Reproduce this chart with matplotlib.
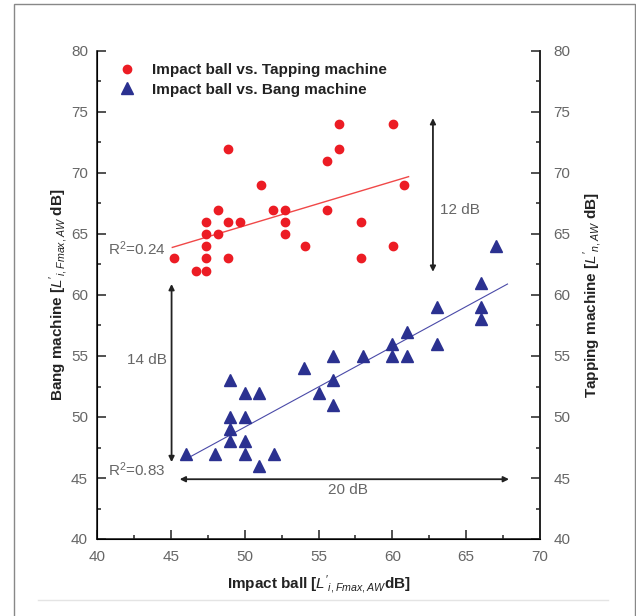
import matplotlib
matplotlib.use("Agg")
import matplotlib.pyplot as plt
from matplotlib.patches import Rectangle
from matplotlib.lines import Line2D
from matplotlib.ticker import MultipleLocator

plt.rcParams['font.family'] = ['Liberation Sans', 'DejaVu Sans']
plt.rcParams['mathtext.fontset'] = 'custom'
plt.rcParams['mathtext.rm'] = 'Liberation Sans'
plt.rcParams['mathtext.it'] = 'Liberation Sans:italic'
plt.rcParams['mathtext.bf'] = 'Liberation Sans:bold'

# impact ball vs tapping machine (red circles)
red_x = [45.2, 46.7, 47.4, 47.4, 47.4, 47.4, 47.4, 48.2, 48.2, 48.9, 48.9, 48.9, 49.7, 51.1,
         51.9, 52.7, 52.7, 52.7, 54.1, 55.6, 55.6, 56.4, 56.4, 57.9, 57.9, 60.05, 60.05, 60.8]
red_y = [63, 62, 62, 63, 64, 65, 66, 65, 67, 72, 66, 63, 66, 69,
         67, 67, 66, 65, 64, 71, 67, 74, 72, 66, 63, 74, 64, 69]

# impact ball vs bang machine (blue triangles)
blue_x = [46, 48, 49, 49, 49, 49, 50, 50, 50, 50, 51, 51, 52, 54, 55,
          56, 56, 56, 58, 60, 60, 61, 61, 63, 63, 66, 66, 66, 67]
blue_y = [47, 47, 48, 49, 50, 53, 52, 50, 48, 47, 52, 46, 47, 54, 52,
          55, 53, 51, 55, 56, 55, 57, 55, 59, 56, 61, 59, 58, 64]

# regression lines
red_fit_x = [45.1, 61.1]
red_fit_y = [63.9, 69.7]
blue_fit_x = [46.1, 67.8]
blue_fit_y = [46.6, 60.9]

red = '#ec1c24'
blue = '#2b3190'
dark = '#222222'
grey = '#666666'

fig = plt.figure(figsize=(6.36, 6.16), dpi=100)
ax = fig.add_axes([97/636, 1-539/616, 443/636, 488/616])

ax.plot(red_fit_x, red_fit_y, color='#f04848', lw=1.0, zorder=2)
ax.plot(blue_fit_x, blue_fit_y, color='#4a4aa8', lw=0.8, zorder=2)
ax.plot(red_x, red_y, 'o', color=red, ms=6, mec=red, ls='none', zorder=3,
        label='Impact ball vs. Tapping machine')
ax.plot(blue_x, blue_y, '^', color=blue, ms=8, mec=blue, ls='none', zorder=3,
        label='Impact ball vs. Bang machine')

ax.set_xlim(40, 70)
ax.set_ylim(40, 80)
ax.xaxis.set_major_locator(MultipleLocator(5))
ax.xaxis.set_minor_locator(MultipleLocator(2.5))
ax.yaxis.set_major_locator(MultipleLocator(5))
ax.yaxis.set_minor_locator(MultipleLocator(2.5))
ax.spines['top'].set_visible(False)
for s in ['left', 'right', 'bottom']:
    ax.spines[s].set_linewidth(1.2)
    ax.spines[s].set_color(dark)
ax.tick_params(axis='x', which='major', direction='in', length=6.5, width=1.1,
               labelsize=11, labelcolor=grey, pad=8, color=dark)
ax.tick_params(axis='y', which='major', direction='in', length=6.5, width=1.1,
               labelsize=11, labelcolor=grey, pad=6.5, color=dark)
ax.tick_params(axis='both', which='minor', direction='in', length=3, width=1.1, color=dark)

ax2 = ax.twinx()
ax2.set_ylim(40, 80)
ax2.yaxis.set_major_locator(MultipleLocator(5))
ax2.yaxis.set_minor_locator(MultipleLocator(2.5))
ax2.spines['top'].set_visible(False)
ax2.spines['right'].set_linewidth(1.2)
ax2.spines['right'].set_color(dark)
ax2.tick_params(axis='y', which='major', direction='in', length=6.5, width=1.1,
                labelsize=11, labelcolor=grey, pad=9.5, color=dark)
ax2.tick_params(axis='y', which='minor', direction='in', length=3, width=1.1, color=dark)

ax.set_xlabel(r"Impact ball [$L'_{i,Fmax,AW}$dB]", fontsize=11, fontweight='bold',
              color=dark, labelpad=7)
ax.set_ylabel(r"Bang machine [$L'_{i,Fmax,AW}$ dB]", fontsize=11, fontweight='bold',
              color=dark, labelpad=1)
ax2.set_ylabel(r"Tapping machine [$L'_{n,AW}$ dB]", fontsize=11, fontweight='bold',
               color=dark, labelpad=8)

leg = ax.legend(loc='upper left', frameon=False, fontsize=11, handlelength=1.0,
                handletextpad=1.14, borderaxespad=0, borderpad=0.4, labelspacing=0.35,
                bbox_to_anchor=(0.037, 0.987))
for t in leg.get_texts():
    t.set_fontweight('bold')
    t.set_color(dark)

arrow = dict(arrowstyle='<|-|>', color=dark, lw=1.3, mutation_scale=8, shrinkA=0, shrinkB=0)
ax.annotate('', xy=(62.75, 74.5), xytext=(62.75, 61.9), arrowprops=arrow)
ax.annotate('', xy=(45.05, 60.9), xytext=(45.05, 46.3), arrowprops=arrow)
ax.annotate('', xy=(45.6, 44.9), xytext=(67.9, 44.9), arrowprops=arrow)

ax.text(63.2, 67.0, '12 dB', fontsize=11, color=grey, ha='left', va='center')
ax.text(44.7, 54.7, '14 dB', fontsize=11, color=grey, ha='right', va='center')
ax.text(57.0, 44.05, '20 dB', fontsize=11, color=grey, ha='center', va='center')
ax.text(44.65, 63.8, r'R$^2$=0.24', fontsize=11, color=grey, ha='right', va='center')
ax.text(44.6, 45.7, r'R$^2$=0.83', fontsize=11, color=grey, ha='right', va='center')

# outer frame of the original figure
fig.patches.append(Rectangle((14/636, -0.05), 621/636, 1.05 - 4/616, transform=fig.transFigure,
                             fill=False, edgecolor='#888888', lw=1.0))
fig.lines.append(Line2D([38/636, 608/636], [1-600/616, 1-600/616], transform=fig.transFigure,
                        color='#e4e4e4', lw=1.0))

fig.savefig('out.png', dpi=100)
